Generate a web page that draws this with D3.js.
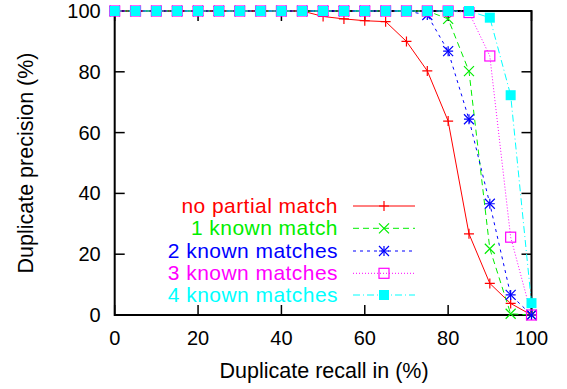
<!DOCTYPE html>
<html>
<head>
<meta charset="utf-8">
<script src="https://cdn.jsdelivr.net/npm/d3@7"></script>
<style>
    body { margin: 0; background: #fff; }
    text { font-family: "Liberation Sans", Arial, sans-serif; }
</style>
</head>
<body>
<svg id="chart" width="567" height="389"></svg>
<script>
// recall points (x), shared by all series
const recall = [0, 5, 10, 15, 20, 25, 30, 35, 40, 45, 50, 55, 60, 65, 70, 75, 80, 85, 90, 95, 100];

const noPartial   = [100, 100, 100, 100, 100, 100, 100, 100, 100, 100, 98.2, 97.4, 96.8, 96.5, 90, 80.3, 63.8, 26.7, 10.4, 3.8, 0];
const known1      = [100, 100, 100, 100, 100, 100, 100, 100, 100, 100, 100, 100, 100, 100, 100, 100, 97.4, 80.2, 21.8, 0.4, 0];
const known2      = [100, 100, 100, 100, 100, 100, 100, 100, 100, 100, 100, 100, 100, 100, 100, 98.7, 86.8, 64.4, 36.6, 6.6, 0];
const known3      = [100, 100, 100, 100, 100, 100, 100, 100, 100, 100, 100, 100, 100, 100, 100, 100, 100, 99.5, 85.2, 25.6, 0];
const known4      = [100, 100, 100, 100, 100, 100, 100, 100, 100, 100, 100, 100, 100, 100, 100, 100, 100, 100, 97.8, 72.3, 3.9];

const seriesNames = ["no partial match", "1 known match", "2 known matches", "3 known matches", "4 known matches"];
const seriesData = [noPartial, known1, known2, known3, known4];

const xTicks = [0, 20, 40, 60, 80, 100];
const yTicks = [0, 20, 40, 60, 80, 100];

const styles = [
    {color: "#ff0000", dash: null, marker: "plus"},
    {color: "#00ee00", dash: "6,4", marker: "cross"},
    {color: "#0000ff", dash: "3,4", marker: "star"},
    {color: "#ff00ff", dash: "1,2", marker: "box"},
    {color: "#00ffff", dash: "7,3,1,3", marker: "fbox"}
];

const margin = {top: 11, right: 35.5, bottom: 74, left: 114.7};
const W = 567, H = 389;
const width = W - margin.left - margin.right;
const height = H - margin.top - margin.bottom;

const svg = d3.select("#chart");
const g = svg.append("g").attr("transform", `translate(${margin.left},${margin.top})`);

const x = d3.scaleLinear().domain([0, 100]).range([0, width]);
const y = d3.scaleLinear().domain([0, 100]).range([height, 0]);

// ticks, mirrored on all sides, pointing inward
const tickLen = 10;
g.selectAll(".xt").data(xTicks).enter().append("line")
    .attr("x1", d => x(d)).attr("x2", d => x(d))
    .attr("y1", height).attr("y2", height - tickLen)
    .attr("stroke", "#000").attr("stroke-width", 1.5);
g.selectAll(".xtt").data(xTicks).enter().append("line")
    .attr("x1", d => x(d)).attr("x2", d => x(d))
    .attr("y1", 0).attr("y2", tickLen)
    .attr("stroke", "#000").attr("stroke-width", 1.5);
g.selectAll(".yt").data(yTicks).enter().append("line")
    .attr("x1", 0).attr("x2", tickLen)
    .attr("y1", d => y(d)).attr("y2", d => y(d))
    .attr("stroke", "#000").attr("stroke-width", 1.5);
g.selectAll(".ytr").data(yTicks).enter().append("line")
    .attr("x1", width).attr("x2", width - tickLen)
    .attr("y1", d => y(d)).attr("y2", d => y(d))
    .attr("stroke", "#000").attr("stroke-width", 1.5);

g.append("rect")
    .attr("width", width).attr("height", height)
    .attr("fill", "none").attr("stroke", "#000").attr("stroke-width", 2);

g.selectAll(".xl").data(xTicks).enter().append("text")
    .attr("x", d => x(d)).attr("y", height + 30)
    .attr("text-anchor", "middle").attr("font-size", 20)
    .text(d => d);
g.selectAll(".yl").data(yTicks).enter().append("text")
    .attr("x", -14).attr("y", d => y(d) + 7)
    .attr("text-anchor", "end").attr("font-size", 20)
    .text(d => d);

svg.append("text")
    .attr("x", margin.left + width / 2 + 1).attr("y", 378)
    .attr("text-anchor", "middle").attr("font-size", 21.5)
    .text("Duplicate recall in (%)");
svg.append("text")
    .attr("transform", `translate(33,${margin.top + height / 2}) rotate(-90)`)
    .attr("text-anchor", "middle").attr("font-size", 21.5)
    .text("Duplicate precision (%)");

function drawMarker(sel, type, color) {
    const s = 5;
    if (type === "plus" || type === "star") {
        sel.append("path").attr("d", `M${-s},0H${s}M0,${-s}V${s}`)
            .attr("stroke", color).attr("stroke-width", 1.2).attr("fill", "none");
    }
    if (type === "cross" || type === "star") {
        sel.append("path").attr("d", `M${-s},${-s}L${s},${s}M${-s},${s}L${s},${-s}`)
            .attr("stroke", color).attr("stroke-width", 1.2).attr("fill", "none");
    }
    if (type === "box") {
        sel.append("rect").attr("x", -s).attr("y", -s).attr("width", 2 * s).attr("height", 2 * s)
            .attr("stroke", color).attr("stroke-width", 1.2).attr("fill", "none");
    }
    if (type === "fbox") {
        sel.append("rect").attr("x", -s).attr("y", -s).attr("width", 2 * s).attr("height", 2 * s)
            .attr("fill", color);
    }
}

const line = d3.line().x((d, i) => x(recall[i])).y(d => y(d));

seriesData.forEach((vals, k) => {
    const st = styles[k];
    g.append("path").datum(vals)
        .attr("d", line)
        .attr("fill", "none").attr("stroke", st.color).attr("stroke-width", 1)
        .attr("stroke-dasharray", st.dash);
    vals.forEach((v, i) => {
        const m = g.append("g").attr("transform", `translate(${x(recall[i])},${y(v)})`);
        drawMarker(m, st.marker, st.color);
    });
});

// legend
const legendRows = [206, 228.3, 251, 273.3, 295];
seriesNames.forEach((name, k) => {
    const st = styles[k];
    const ly = legendRows[k];
    svg.append("text")
        .attr("x", 338).attr("y", ly + 6.5)
        .attr("text-anchor", "end").attr("font-size", 21)
        .attr("letter-spacing", 0.45)
        .attr("fill", st.color)
        .text(name);
    svg.append("line")
        .attr("x1", 353).attr("x2", 415).attr("y1", ly).attr("y2", ly)
        .attr("stroke", st.color).attr("stroke-width", 1)
        .attr("stroke-dasharray", st.dash);
    const m = svg.append("g").attr("transform", `translate(384,${ly})`);
    drawMarker(m, st.marker, st.color);
});
</script>
</body>
</html>
